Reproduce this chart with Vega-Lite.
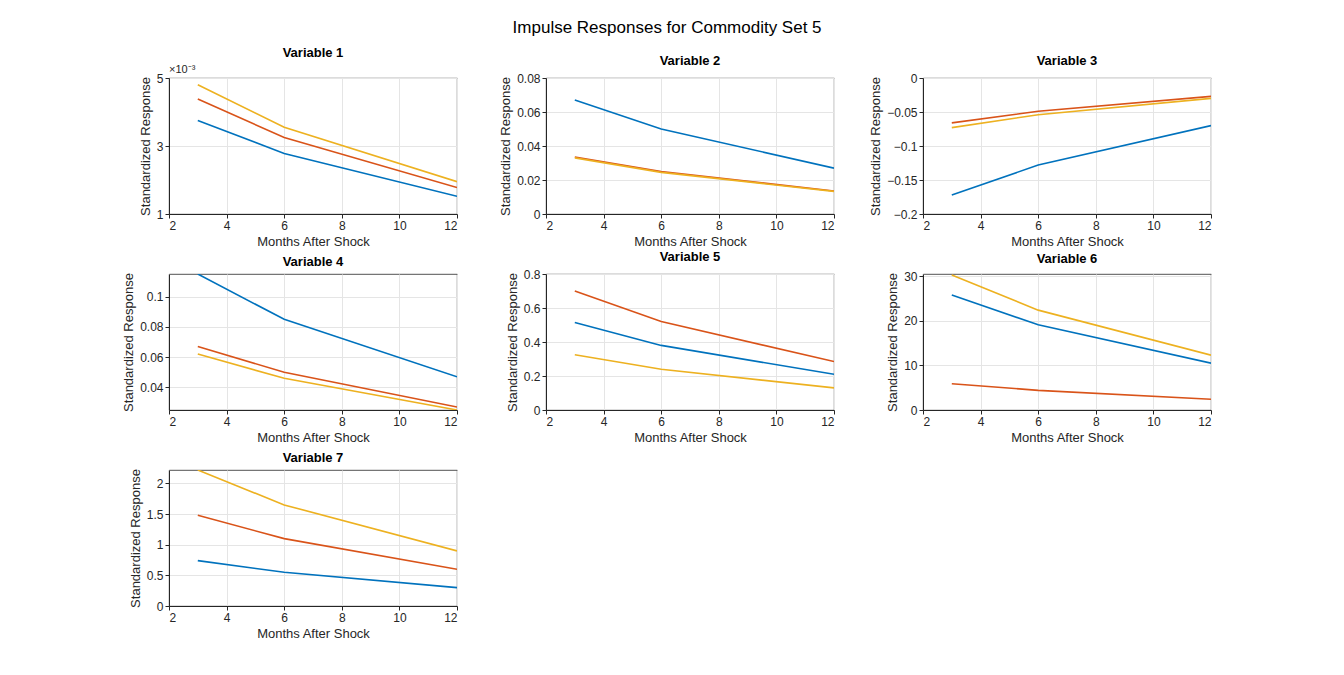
{
  "$schema": "https://vega.github.io/schema/vega-lite/v6.json",
  "autosize": "pad",
  "padding": {"left": 122, "top": 18, "right": 0, "bottom": 0},
  "background": "white",
  "title": {"text": "Impulse Responses for Commodity Set 5", "fontSize": 17, "fontWeight": "normal", "font": "Liberation Sans", "color": "#000", "anchor": "middle", "offset": 10},
  "config": {
    "font": "Liberation Sans",
    "view": {"stroke": "#262626", "strokeWidth": 0.8},
    "axis": {"grid": true, "gridColor": "#e5e5e5", "domainColor": "#262626", "tickColor": "#262626", "labelColor": "#262626", "titleColor": "#262626", "labelFontSize": 12, "titleFontSize": 13, "titleFontWeight": "normal", "tickSize": 4},
    "title": {"fontSize": 13, "fontWeight": "bold", "color": "#000", "offset": 4},
    "line": {"strokeWidth": 1.6}
  },
  "bounds": "flush",
  "spacing": {"row": 60, "column": 89},
  "columns": 3,
  "datasets": {
    "irf": [
      {"var": 1, "month": 3, "series": "a", "value": 0.00375},
      {"var": 1, "month": 6, "series": "a", "value": 0.00278},
      {"var": 1, "month": 12, "series": "a", "value": 0.00152},
      {"var": 1, "month": 3, "series": "b", "value": 0.00438},
      {"var": 1, "month": 6, "series": "b", "value": 0.00325},
      {"var": 1, "month": 12, "series": "b", "value": 0.00178},
      {"var": 1, "month": 3, "series": "c", "value": 0.0048},
      {"var": 1, "month": 6, "series": "c", "value": 0.00355},
      {"var": 1, "month": 12, "series": "c", "value": 0.00195},
      {"var": 2, "month": 3, "series": "a", "value": 0.067},
      {"var": 2, "month": 6, "series": "a", "value": 0.050},
      {"var": 2, "month": 12, "series": "a", "value": 0.027},
      {"var": 2, "month": 3, "series": "b", "value": 0.0335},
      {"var": 2, "month": 6, "series": "b", "value": 0.025},
      {"var": 2, "month": 12, "series": "b", "value": 0.0135},
      {"var": 2, "month": 3, "series": "c", "value": 0.033},
      {"var": 2, "month": 6, "series": "c", "value": 0.0245},
      {"var": 2, "month": 12, "series": "c", "value": 0.0133},
      {"var": 3, "month": 3, "series": "a", "value": -0.172},
      {"var": 3, "month": 6, "series": "a", "value": -0.128},
      {"var": 3, "month": 12, "series": "a", "value": -0.070},
      {"var": 3, "month": 3, "series": "b", "value": -0.066},
      {"var": 3, "month": 6, "series": "b", "value": -0.049},
      {"var": 3, "month": 12, "series": "b", "value": -0.027},
      {"var": 3, "month": 3, "series": "c", "value": -0.073},
      {"var": 3, "month": 6, "series": "c", "value": -0.054},
      {"var": 3, "month": 12, "series": "c", "value": -0.030},
      {"var": 4, "month": 3, "series": "a", "value": 0.115},
      {"var": 4, "month": 6, "series": "a", "value": 0.085},
      {"var": 4, "month": 12, "series": "a", "value": 0.047},
      {"var": 4, "month": 3, "series": "b", "value": 0.067},
      {"var": 4, "month": 6, "series": "b", "value": 0.050},
      {"var": 4, "month": 12, "series": "b", "value": 0.027},
      {"var": 4, "month": 3, "series": "c", "value": 0.062},
      {"var": 4, "month": 6, "series": "c", "value": 0.046},
      {"var": 4, "month": 12, "series": "c", "value": 0.025},
      {"var": 5, "month": 3, "series": "a", "value": 0.515},
      {"var": 5, "month": 6, "series": "a", "value": 0.38},
      {"var": 5, "month": 12, "series": "a", "value": 0.21},
      {"var": 5, "month": 3, "series": "b", "value": 0.70},
      {"var": 5, "month": 6, "series": "b", "value": 0.52},
      {"var": 5, "month": 12, "series": "b", "value": 0.285},
      {"var": 5, "month": 3, "series": "c", "value": 0.325},
      {"var": 5, "month": 6, "series": "c", "value": 0.24},
      {"var": 5, "month": 12, "series": "c", "value": 0.13},
      {"var": 6, "month": 3, "series": "a", "value": 25.8},
      {"var": 6, "month": 6, "series": "a", "value": 19.1},
      {"var": 6, "month": 12, "series": "a", "value": 10.5},
      {"var": 6, "month": 3, "series": "b", "value": 5.9},
      {"var": 6, "month": 6, "series": "b", "value": 4.4},
      {"var": 6, "month": 12, "series": "b", "value": 2.4},
      {"var": 6, "month": 3, "series": "c", "value": 30.3},
      {"var": 6, "month": 6, "series": "c", "value": 22.4},
      {"var": 6, "month": 12, "series": "c", "value": 12.3},
      {"var": 7, "month": 3, "series": "a", "value": 0.74},
      {"var": 7, "month": 6, "series": "a", "value": 0.55},
      {"var": 7, "month": 12, "series": "a", "value": 0.30},
      {"var": 7, "month": 3, "series": "b", "value": 1.48},
      {"var": 7, "month": 6, "series": "b", "value": 1.10},
      {"var": 7, "month": 12, "series": "b", "value": 0.60},
      {"var": 7, "month": 3, "series": "c", "value": 2.22},
      {"var": 7, "month": 6, "series": "c", "value": 1.65},
      {"var": 7, "month": 12, "series": "c", "value": 0.90}
    ]
  },
  "concat": [
    {
      "title": "Variable 1", "width": 288, "height": 136,
      "data": {"name": "irf"},
      "transform": [{"filter": "datum.var == 1"}],
      "layer": [
        {
          "mark": {"type": "line", "clip": true},
          "encoding": {
            "x": {"field": "month", "type": "quantitative", "title": "Months After Shock", "scale": {"domain": [2, 12], "nice": false}, "axis": {"values": [2, 4, 6, 8, 10, 12]}},
            "y": {"field": "value", "type": "quantitative", "title": "Standardized Response", "scale": {"domain": [0.001, 0.005], "nice": false, "zero": false}, "axis": {"values": [0.001, 0.002, 0.003, 0.004, 0.005], "labelExpr": "format(datum.value * 1000, 'd')"}},
            "color": {"field": "series", "type": "nominal", "legend": null, "scale": {"domain": ["a", "b", "c"], "range": ["#0072BD", "#D95319", "#EDB120"]}}
          }
        },
        {
          "transform": [{"filter": "datum.month == 3 && datum.series == 'a'"}],
          "mark": {"type": "text", "text": "×10⁻³", "align": "left", "baseline": "bottom", "dy": -3, "fontSize": 11, "color": "#262626"},
          "encoding": {"x": {"datum": 2}, "y": {"datum": 0.005}}
        }
      ]
    },
    {
      "title": "Variable 2", "width": 288, "height": 136,
      "data": {"name": "irf"},
      "transform": [{"filter": "datum.var == 2"}],
      "mark": {"type": "line", "clip": true},
      "encoding": {
        "x": {"field": "month", "type": "quantitative", "title": "Months After Shock", "scale": {"domain": [2, 12], "nice": false}, "axis": {"values": [2, 4, 6, 8, 10, 12]}},
        "y": {"field": "value", "type": "quantitative", "title": "Standardized Response", "scale": {"domain": [0, 0.08], "nice": false}, "axis": {"values": [0, 0.02, 0.04, 0.06, 0.08], "format": "~g"}},
        "color": {"field": "series", "type": "nominal", "legend": null, "scale": {"domain": ["a", "b", "c"], "range": ["#0072BD", "#D95319", "#EDB120"]}}
      }
    },
    {
      "title": "Variable 3", "width": 288, "height": 136,
      "data": {"name": "irf"},
      "transform": [{"filter": "datum.var == 3"}],
      "mark": {"type": "line", "clip": true},
      "encoding": {
        "x": {"field": "month", "type": "quantitative", "title": "Months After Shock", "scale": {"domain": [2, 12], "nice": false}, "axis": {"values": [2, 4, 6, 8, 10, 12]}},
        "y": {"field": "value", "type": "quantitative", "title": "Standardized Response", "scale": {"domain": [-0.2, 0], "nice": false}, "axis": {"values": [-0.2, -0.15, -0.1, -0.05, 0], "format": "~g"}},
        "color": {"field": "series", "type": "nominal", "legend": null, "scale": {"domain": ["a", "b", "c"], "range": ["#0072BD", "#D95319", "#EDB120"]}}
      }
    },
    {
      "title": "Variable 4", "width": 288, "height": 136,
      "data": {"name": "irf"},
      "transform": [{"filter": "datum.var == 4"}],
      "mark": {"type": "line", "clip": true},
      "encoding": {
        "x": {"field": "month", "type": "quantitative", "title": "Months After Shock", "scale": {"domain": [2, 12], "nice": false}, "axis": {"values": [2, 4, 6, 8, 10, 12]}},
        "y": {"field": "value", "type": "quantitative", "title": "Standardized Response", "scale": {"domain": [0.025, 0.115], "nice": false, "zero": false}, "axis": {"values": [0.04, 0.06, 0.08, 0.1], "format": "~g"}},
        "color": {"field": "series", "type": "nominal", "legend": null, "scale": {"domain": ["a", "b", "c"], "range": ["#0072BD", "#D95319", "#EDB120"]}}
      }
    },
    {
      "title": "Variable 5", "width": 288, "height": 136,
      "data": {"name": "irf"},
      "transform": [{"filter": "datum.var == 5"}],
      "mark": {"type": "line", "clip": true},
      "encoding": {
        "x": {"field": "month", "type": "quantitative", "title": "Months After Shock", "scale": {"domain": [2, 12], "nice": false}, "axis": {"values": [2, 4, 6, 8, 10, 12]}},
        "y": {"field": "value", "type": "quantitative", "title": "Standardized Response", "scale": {"domain": [0, 0.8], "nice": false}, "axis": {"values": [0, 0.2, 0.4, 0.6, 0.8], "format": "~g"}},
        "color": {"field": "series", "type": "nominal", "legend": null, "scale": {"domain": ["a", "b", "c"], "range": ["#0072BD", "#D95319", "#EDB120"]}}
      }
    },
    {
      "title": "Variable 6", "width": 288, "height": 136,
      "data": {"name": "irf"},
      "transform": [{"filter": "datum.var == 6"}],
      "mark": {"type": "line", "clip": true},
      "encoding": {
        "x": {"field": "month", "type": "quantitative", "title": "Months After Shock", "scale": {"domain": [2, 12], "nice": false}, "axis": {"values": [2, 4, 6, 8, 10, 12]}},
        "y": {"field": "value", "type": "quantitative", "title": "Standardized Response", "scale": {"domain": [0, 30.5], "nice": false}, "axis": {"values": [0, 10, 20, 30]}},
        "color": {"field": "series", "type": "nominal", "legend": null, "scale": {"domain": ["a", "b", "c"], "range": ["#0072BD", "#D95319", "#EDB120"]}}
      }
    },
    {
      "title": "Variable 7", "width": 288, "height": 136,
      "data": {"name": "irf"},
      "transform": [{"filter": "datum.var == 7"}],
      "mark": {"type": "line", "clip": true},
      "encoding": {
        "x": {"field": "month", "type": "quantitative", "title": "Months After Shock", "scale": {"domain": [2, 12], "nice": false}, "axis": {"values": [2, 4, 6, 8, 10, 12]}},
        "y": {"field": "value", "type": "quantitative", "title": "Standardized Response", "scale": {"domain": [0, 2.22], "nice": false}, "axis": {"values": [0, 0.5, 1, 1.5, 2], "format": "~g"}},
        "color": {"field": "series", "type": "nominal", "legend": null, "scale": {"domain": ["a", "b", "c"], "range": ["#0072BD", "#D95319", "#EDB120"]}}
      }
    }
  ]
}
